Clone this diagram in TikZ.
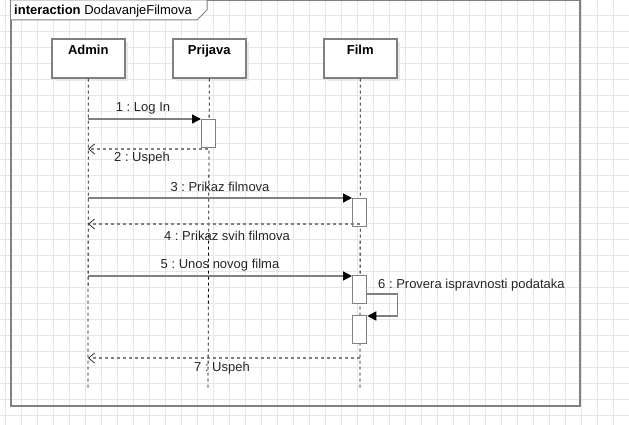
\documentclass[tikz,border=0pt]{standalone}
\usepackage{fontspec}
\setmainfont{Liberation Sans}
\frenchspacing
\usetikzlibrary{arrows.meta}
\definecolor{gridc}{HTML}{E6E6E6}
\definecolor{linec}{HTML}{808080}
\definecolor{shadowc}{HTML}{E8E8E8}
\begin{document}
\begin{tikzpicture}[x=1pt,y=-1pt,
  headbox/.style={draw=linec,line width=1.6pt,fill=white,minimum width=73pt,minimum height=39pt,inner sep=0pt,anchor=north west},
  headtext/.style={font=\fontsize{13}{15}\selectfont\bfseries,anchor=north},
  actbox/.style={draw=linec,line width=1.3pt,fill=white,minimum width=14pt,minimum height=28pt,inner sep=0pt,anchor=north west},
  lifeline/.style={black,dashed,dash pattern=on 3pt off 3pt,line width=0.8pt},
  callmsg/.style={draw=linec,line width=1.6pt,-{Triangle[length=9pt,width=9pt,fill=black,color=black]}},
  retmsg/.style={draw=linec,line width=1.2pt,dash pattern=on 3pt off 3pt,-{Straight Barb[length=6pt,width=10pt,color=black!80,line width=0.8pt]}},
  msglabel/.style={font=\fontsize{13}{15}\selectfont,text=black!85,inner sep=1pt}]
\useasboundingbox (0,0) rectangle (629,425);
\fill[white] (0,0) rectangle (629,425);
% grid
\foreach \gx in {5,21,...,629} \draw[gridc,line width=0.8pt] (\gx,0) -- (\gx,425);
\foreach \gy in {15.5,31.5,...,425} \draw[gridc,line width=0.8pt] (0,\gy) -- (629,\gy);
% frame
\draw[linec,line width=1.8pt] (11,0) rectangle (580,406);
\draw[linec,line width=1pt,fill=white] (11,0) -- (207,0) -- (207,10) -- (197,20) -- (11,20);
\node[anchor=base west,inner sep=0pt,font=\fontsize{13}{15}\selectfont] (title) at (14,15) {\textbf{interaction} DodavanjeFilmova};
% shadows
\fill[shadowc] (55,42) rectangle (128,81);
\fill[shadowc] (176,42) rectangle (249,81);
\fill[shadowc] (327,42) rectangle (400,81);
% lifeline heads
\node[headbox] (admin) at (51,38) {};
\node[headbox] (prijava) at (172,38) {};
\node[headbox] (film) at (323,38) {};
\node[headtext] (admint) at ([yshift=-4pt]admin.north) {Admin};
\node[headtext] (prijavat) at ([yshift=-4pt]prijava.north) {Prijava};
\node[headtext] (filmt) at ([yshift=-4pt]film.north) {Film};
% lifeline ends
\coordinate (adminEnd) at (88,388);
\coordinate (prijavaEnd) at (208,388);
\coordinate (filmEnd) at (360,388);
\draw[lifeline] (admin.south) -- (adminEnd);
\draw[lifeline] (prijava.south) -- (prijavaEnd);
\draw[lifeline] (film.south) -- (filmEnd);
% activations
\node[actbox] (actP) at (201,119) {};
\node[actbox] (actF1) at (352,198) {};
\node[actbox] (actF2) at (352,275) {};
\node[actbox] (actF3) at (352,315) {};
% message anchors on the Admin lifeline
\coordinate (a1) at (88,119);
\coordinate (a2) at (88,149);
\coordinate (a3) at (88,198);
\coordinate (a4) at (88,224);
\coordinate (a5) at (88,276);
\coordinate (a7) at (88,358);
\coordinate (p2) at (208,149);
\coordinate (f4) at (360,224);
\coordinate (f7) at (360,358);
% messages
\draw[callmsg] (a1) -- (actP.north west);
\node[msglabel] (m1) at (143,108) {1 : Log In};
\draw[retmsg] (p2) -- (a2);
\node[msglabel] (m2) at (142,158) {2 : Uspeh};
\draw[callmsg] (a3) -- (actF1.north west);
\node[msglabel] (m3) at (220,187) {3 : Prikaz filmova};
\draw[retmsg] (f4) -- (a4);
\node[msglabel] (m4) at (227,236) {4 : Prikaz svih filmova};
\draw[callmsg] (a5) -- ([yshift=-1pt]actF2.north west);
\node[msglabel] (m5) at (220,265) {5 : Unos novog filma};
% self message
\draw[callmsg] ([yshift=-19pt]actF2.north east) -- ++(30,0) |- ([yshift=-1pt]actF3.north east);
\node[msglabel,anchor=west] (m6) at (377,285) {6 : Provera ispravnosti podataka};
\draw[retmsg] (f7) -- (a7);
\node[msglabel] (m7) at (222,368) {7 : Uspeh};
\end{tikzpicture}
\end{document}
